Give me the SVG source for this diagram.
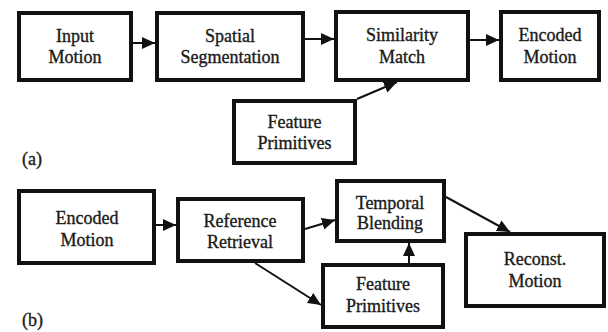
<svg xmlns="http://www.w3.org/2000/svg" width="608" height="332" viewBox="0 0 608 332">
<defs>
<marker id="ah" markerUnits="userSpaceOnUse" markerWidth="13" markerHeight="13" viewBox="0 0 13 13" refX="13" refY="6.5" orient="auto">
<path d="M0,0.5 L13,6.5 L0,12.5 Z" fill="#111"/>
</marker>
<style>
.box{fill:#fff;stroke:#111;stroke-width:4}
text{font-family:'Liberation Serif','Times New Roman',Times,serif;font-size:18px;fill:#1a1a1a;stroke:#1a1a1a;stroke-width:0.35}
.t{text-anchor:middle}
.c{stroke:#111;stroke-width:2;fill:none;marker-end:url(#ah)}
</style>
</defs>
<rect width="608" height="332" fill="#fff"/>
<g id="connectors">
<line class="c" x1="133" y1="43" x2="155" y2="43"/>
<line class="c" x1="305" y1="39" x2="334" y2="39"/>
<line class="c" x1="470" y1="40" x2="499" y2="40"/>
<line class="c" x1="357" y1="99" x2="397" y2="82"/>
<line class="c" x1="156" y1="225" x2="176" y2="225"/>
<line class="c" x1="305" y1="229" x2="335" y2="220"/>
<line class="c" x1="255" y1="263" x2="321" y2="305"/>
<line class="c" x1="409" y1="263" x2="409" y2="243"/>
<line class="c" x1="446" y1="197" x2="510" y2="232"/>
</g>
<g id="input-motion"><rect class="box" x="19" y="13" width="112" height="67"/><text class="t" x="75" y="42">Input</text><text class="t" x="75" y="63">Motion</text></g>
<g id="spatial-segmentation"><rect class="box" x="157" y="13" width="146" height="67"/><text class="t" x="230" y="42">Spatial</text><text class="t" x="230" y="63">Segmentation</text></g>
<g id="similarity-match"><rect class="box" x="336" y="12" width="132" height="68"/><text class="t" x="402" y="41">Similarity</text><text class="t" x="402" y="63">Match</text></g>
<g id="encoded-motion-a"><rect class="box" x="501" y="12" width="98" height="68"/><text class="t" x="550" y="41">Encoded</text><text class="t" x="550" y="63">Motion</text></g>
<g id="feature-primitives-a"><rect class="box" x="234" y="101" width="121" height="62"/><text class="t" x="294.5" y="128">Feature</text><text class="t" x="294.5" y="149">Primitives</text></g>
<g id="label-a"><text x="22" y="165">(a)</text></g>
<g id="encoded-motion-b"><rect class="box" x="19" y="191" width="135" height="72"/><text class="t" x="87" y="224">Encoded</text><text class="t" x="87" y="246">Motion</text></g>
<g id="reference-retrieval"><rect class="box" x="178" y="199" width="125" height="62"/><text class="t" x="240" y="227">Reference</text><text class="t" x="240" y="248">Retrieval</text></g>
<g id="temporal-blending"><rect class="box" x="337" y="181" width="107" height="60"/><text class="t" x="390" y="209">Temporal</text><text class="t" x="390" y="229">Blending</text></g>
<g id="feature-primitives-b"><rect class="box" x="323" y="265" width="120" height="62"/><text class="t" x="383" y="290">Feature</text><text class="t" x="383" y="312">Primitives</text></g>
<g id="reconst-motion"><rect class="box" x="466" y="234" width="138" height="72"/><text class="t" x="535" y="265">Reconst.</text><text class="t" x="535" y="287">Motion</text></g>
<g id="label-b"><text x="22" y="326">(b)</text></g>
</svg>
